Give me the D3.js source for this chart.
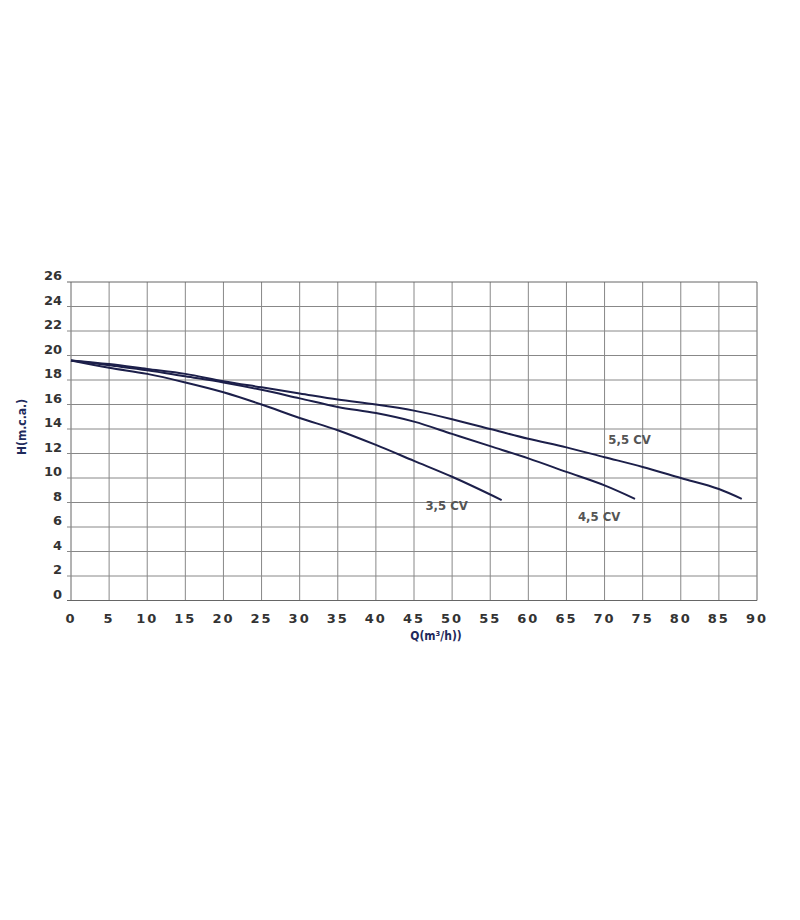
<!DOCTYPE html>
<html lang="en">
<head>
<meta charset="UTF-8">
<script src="https://cdnjs.cloudflare.com/ajax/libs/d3/7.8.5/d3.min.js"></script>
<style>
  body { margin: 0; background: #fff; }
  svg { display: block; }
</style>
</head>
<body>
<svg id="chart" width="800" height="920"></svg>
<script>
const xTicks = d3.range(0, 91, 5);
const yTicks = d3.range(0, 27, 2);

const q35 = [0, 5, 10, 15, 20, 25, 30, 35, 40, 45, 50, 56.5];
const h35 = [19.6, 19.0, 18.5, 17.8, 17.0, 16.0, 14.9, 13.9, 12.7, 11.4, 10.1, 8.2];
const q45 = [0, 5, 10, 15, 20, 25, 30, 35, 40, 45, 50, 55, 60, 65, 70, 74];
const h45 = [19.6, 19.2, 18.8, 18.3, 17.8, 17.2, 16.5, 15.8, 15.3, 14.6, 13.6, 12.6, 11.6, 10.5, 9.4, 8.3];
const q55 = [0, 5, 10, 15, 20, 25, 30, 35, 40, 45, 50, 55, 60, 65, 70, 75, 80, 85, 88];
const h55 = [19.6, 19.3, 18.9, 18.5, 17.9, 17.4, 16.9, 16.4, 16.0, 15.5, 14.8, 14.0, 13.2, 12.5, 11.7, 10.9, 10.0, 9.1, 8.3];

const series = [
  { name: "3,5 CV", q: q35, h: h35, lx: 46.5, ly: 7.4 },
  { name: "4,5 CV", q: q45, h: h45, lx: 66.5, ly: 6.5 },
  { name: "5,5 CV", q: q55, h: h55, lx: 70.5, ly: 12.8 }
];

const svg = d3.select("#chart");
const x = d3.scaleLinear().domain([0, 90]).range([71, 757]);
const y = d3.scaleLinear().domain([0, 26]).range([600.5, 282]);

// grid
svg.append("g").selectAll("line").data(xTicks).join("line")
  .attr("x1", d => x(d)).attr("x2", d => x(d))
  .attr("y1", y(0)).attr("y2", y(26))
  .attr("stroke", d => d === 0 || d === 90 ? "#666" : "#888").attr("stroke-width", 1);
svg.append("g").selectAll("line").data(yTicks).join("line")
  .attr("x1", x(0) - 4).attr("x2", x(90))
  .attr("y1", d => y(d)).attr("y2", d => y(d))
  .attr("stroke", d => d === 0 || d === 26 ? "#666" : "#888").attr("stroke-width", 1);

// tick labels
svg.append("g").selectAll("text").data(yTicks).join("text")
  .attr("x", 62).attr("y", d => y(d) - 2)
  .attr("text-anchor", "end")
  .attr("font-family", "DejaVu Sans").attr("font-size", 13).attr("font-weight", "bold")
  .attr("fill", "#333").text(d => d);
svg.append("g").selectAll("text").data(xTicks).join("text")
  .attr("x", d => x(d)).attr("y", 623)
  .attr("text-anchor", "middle").attr("letter-spacing", 2)
  .attr("font-family", "DejaVu Sans").attr("font-size", 13).attr("font-weight", "bold")
  .attr("fill", "#333").text(d => d);

// axis titles
svg.append("text").attr("x", 436).attr("y", 640).attr("text-anchor", "middle")
  .attr("font-family", "DejaVu Sans Condensed, DejaVu Sans").attr("font-stretch", "condensed")
  .attr("font-size", 12).attr("font-weight", "bold").attr("fill", "#1f2a5c")
  .text("Q(m³/h))");
svg.append("text").attr("transform", "translate(26,427) rotate(-90)").attr("text-anchor", "middle")
  .attr("font-family", "DejaVu Sans Condensed, DejaVu Sans").attr("font-stretch", "condensed")
  .attr("font-size", 12).attr("font-weight", "bold").attr("fill", "#1f2a5c")
  .text("H(m.c.a.)");

// curves
const line = d3.line().x(d => x(d[0])).y(d => y(d[1])).curve(d3.curveMonotoneX);
svg.append("g").selectAll("path").data(series).join("path")
  .attr("d", s => line(s.q.map((v, i) => [v, s.h[i]])))
  .attr("fill", "none").attr("stroke", "#1c1f4a").attr("stroke-width", 2);

svg.append("g").selectAll("text").data(series).join("text")
  .attr("x", s => x(s.lx)).attr("y", s => y(s.ly))
  .attr("font-family", "DejaVu Sans Condensed, DejaVu Sans").attr("font-stretch", "condensed")
  .attr("font-size", 13).attr("font-weight", "bold").attr("fill", "#555")
  .text(s => s.name);
</script>
</body>
</html>
